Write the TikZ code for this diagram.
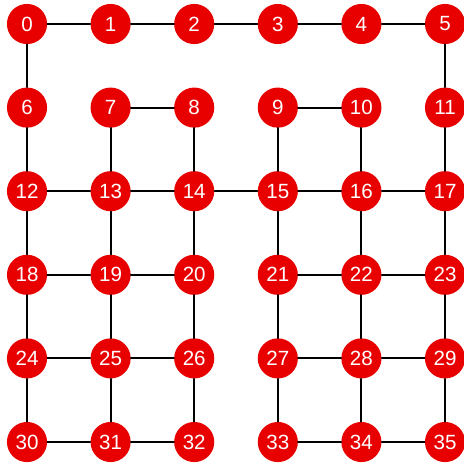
\documentclass[tikz,border=0pt]{standalone}
\usepackage{fontspec}
\setmainfont{Liberation Sans}
\definecolor{vertred}{RGB}{232,0,0}
\begin{document}
\begin{tikzpicture}[x=2cm, y=-2cm, line cap=round, line join=round, font=\fontsize{14}{16}\selectfont]
    \tikzset{vert/.style={circle, fill=vertred, text=white, inner sep=0pt, minimum size=0.96cm},
             link/.style={line width=1.3pt, black}}
    \useasboundingbox (-0.323,-0.287) rectangle (5.216,5.263);

    % the 6x6 vertices
    \foreach \r in {0,...,5}
      \foreach \c in {0,...,5} {
        \pgfmathtruncatemacro\k{6*\r+\c}
        \node[vert] (n\k) at (\c,\r) {\k};
      }

    % horizontal links
    \foreach \a/\b in {0/1,1/2,2/3,3/4,4/5, 7/8,9/10, 12/13,13/14,14/15,15/16,16/17,
                       18/19,19/20,21/22,22/23, 24/25,25/26,27/28,28/29, 30/31,31/32,33/34,34/35}
      \draw[link] (n\a) -- (n\b);

    % vertical links
    \foreach \a/\b in {0/6,5/11, 6/12,7/13,8/14,9/15,10/16,11/17,
                       12/18,13/19,14/20,15/21,16/22,17/23,
                       18/24,19/25,20/26,21/27,22/28,23/29,
                       24/30,25/31,26/32,27/33,28/34,29/35}
      \draw[link] (n\a) -- (n\b);
\end{tikzpicture}
\end{document}
